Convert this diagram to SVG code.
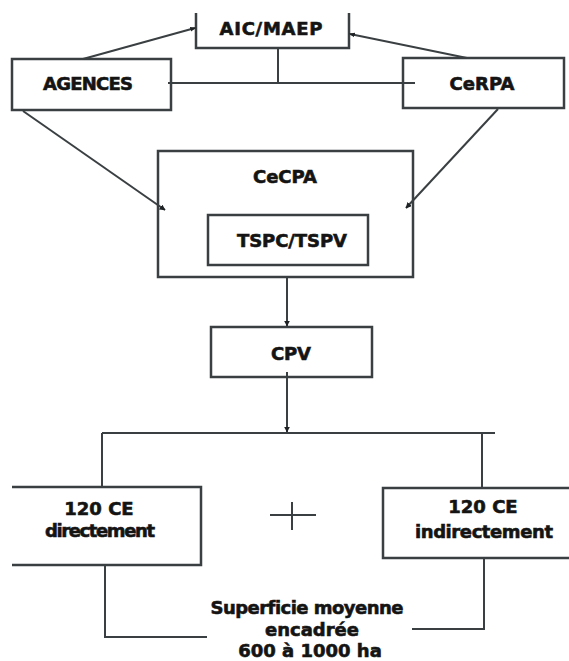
<svg xmlns="http://www.w3.org/2000/svg" width="569" height="661" viewBox="0 0 569 661">
<style>
.box{fill:#fff;stroke:#3a3f42;stroke-width:2.5}
.ln{fill:none;stroke:#3a3f42;stroke-width:2}
.t{font-family:"DejaVu Sans",Verdana,sans-serif;font-weight:bold;font-size:18px;fill:#141414;stroke:#141414;stroke-width:0.6;text-anchor:middle;font-variant-ligatures:none}
</style>
<defs>
<marker id="ah" viewBox="0 0 10 10" refX="9" refY="5" markerWidth="6" markerHeight="6" orient="auto" markerUnits="userSpaceOnUse">
<path d="M0,0 L10,5 L0,10 z" fill="#1e2224"/>
</marker>
<marker id="dot" viewBox="0 0 10 10" refX="8" refY="5" markerWidth="6" markerHeight="6" orient="auto" markerUnits="userSpaceOnUse">
<path d="M0,1 L10,5 L0,9 z" fill="#1e2224"/>
</marker>
</defs>
<rect width="569" height="661" fill="#fff"/>

<g id="aic">
<path class="box" d="M196,13 V48 H349 V13"/>
<text class="t" x="271" y="35" textLength="103">AIC/MAEP</text>
</g>
<g id="agences">
<rect class="box" x="12" y="59" width="159" height="51"/>
<text class="t" x="88" y="90" textLength="90">AGENCES</text>
</g>
<g id="cerpa">
<rect class="box" x="403" y="58" width="161" height="50"/>
<text class="t" x="482" y="90" textLength="65">CeRPA</text>
</g>
<g id="cecpa">
<rect class="box" x="158" y="151" width="255" height="126"/>
<text class="t" x="285" y="183" textLength="64">CeCPA</text>
</g>
<g id="tspc">
<rect class="box" x="208" y="215" width="160" height="50"/>
<text class="t" x="292" y="247" textLength="110">TSPC/TSPV</text>
</g>
<g id="cpv">
<rect class="box" x="211" y="327" width="161" height="50"/>
<text class="t" x="291" y="360" textLength="40">CPV</text>
</g>
<g id="ce-direct">
<path class="box" d="M12,487 H201 V565 H12"/>
<text class="t" x="99" y="515">120 CE</text>
<text class="t" x="100" y="537" textLength="110">directement</text>
</g>
<g id="ce-indirect">
<path class="box" d="M571,488 H383 V558 H571"/>
<text class="t" x="483" y="513">120 CE</text>
<text class="t" x="484" y="538" textLength="138">indirectement</text>
</g>
<g id="superficie">
<text class="t" x="307" y="614" textLength="193">Superficie moyenne</text>
<text class="t" x="312" y="636">encadrée</text>
<text class="t" x="310" y="657">600 à 1000 ha</text>
</g>

<g id="connectors">
<line class="ln" x1="83" y1="59" x2="195" y2="28" marker-end="url(#dot)"/>
<line class="ln" x1="467" y1="58" x2="350" y2="34" marker-end="url(#dot)"/>
<line class="ln" x1="278" y1="49" x2="278" y2="83"/>
<line class="ln" x1="168" y1="83" x2="415" y2="83"/>
<line class="ln" x1="23" y1="111" x2="165" y2="210" marker-end="url(#ah)"/>
<line class="ln" x1="498" y1="109" x2="406" y2="208" marker-end="url(#ah)"/>
<line class="ln" x1="287" y1="278" x2="287" y2="326" marker-end="url(#ah)"/>
<line class="ln" x1="287" y1="372" x2="287" y2="432" marker-end="url(#ah)"/>
<line class="ln" x1="102" y1="433" x2="495" y2="433"/>
<line class="ln" x1="102" y1="433" x2="102" y2="486"/>
<line class="ln" x1="482" y1="433" x2="482" y2="487"/>
<polyline class="ln" points="105,566 105,637 207,637"/>
<polyline class="ln" points="484,559 484,629 412,629"/>
<line class="ln" x1="270" y1="515" x2="316" y2="515"/>
<line class="ln" x1="292" y1="502" x2="292" y2="530"/>
</g>
</svg>
